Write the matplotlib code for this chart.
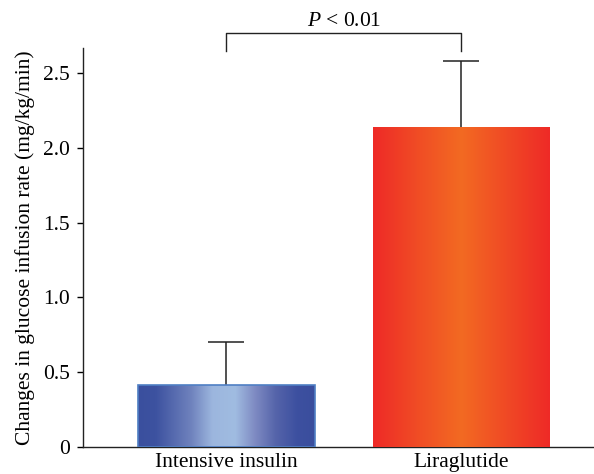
import numpy as np
import matplotlib.pyplot as plt
from matplotlib.colors import LinearSegmentedColormap

# Werte
groups = ['Intensive insulin', 'Liraglutide']
means = [0.41, 2.14]
sd_upper = [0.29, 0.44]
p_text = '$\\it{P}$ < 0.01'

plt.rcParams['font.family'] = ['Liberation Serif', 'DejaVu Serif']
plt.rcParams['mathtext.fontset'] = 'custom'
plt.rcParams['mathtext.it'] = 'Liberation Serif:italic'
plt.rcParams['mathtext.rm'] = 'Liberation Serif'

blue_cmap = LinearSegmentedColormap.from_list('blau', [
    (0.0, '#3a4f9e'), (0.1, '#3d52a0'), (0.3, '#6f82bd'), (0.42, '#9cb6de'),
    (0.55, '#a0bce1'), (0.66, '#7f8bc3'), (0.78, '#5564aa'), (0.9, '#3d50a0'),
    (1.0, '#3a4e9d')])
red_cmap = LinearSegmentedColormap.from_list('rot', [
    (0.0, '#ee2a27'), (0.25, '#f04c25'), (0.5, '#f36a22'), (0.75, '#f04a25'),
    (1.0, '#ee2a27')])

fs = 15.5
fig = plt.figure(figsize=(5.94, 4.74), dpi=100)
ax = fig.add_axes([0.14, 0.058, 0.86, 0.841])

x = np.arange(len(groups))
width = 0.753
bars = ax.bar(x, means, width=width, color='none', edgecolor='none', zorder=2)
eb = ax.errorbar(x, means, yerr=[np.zeros(len(means)), sd_upper], fmt='none',
                 ecolor='#222222', elinewidth=1.1, capsize=13, capthick=1.1, zorder=1)
eb[1][0].set_visible(False)  # untere Kappe weg

grad = np.linspace(0, 1, 256).reshape(1, -1)
for bar, cmap, edge in zip(bars, [blue_cmap, red_cmap], ['#4f7fc4', 'none']):
    x0, y0 = bar.get_x(), bar.get_y()
    w, h = bar.get_width(), bar.get_height()
    im = ax.imshow(grad, cmap=cmap, aspect='auto', extent=[x0, x0 + w, y0, y0 + h],
                   zorder=3, interpolation='bicubic')
    im.set_clip_path(bar)
    if edge != 'none':
        ax.bar(bar.get_x() + w / 2, h, width=w, color='none', edgecolor=edge,
               linewidth=1.2, zorder=4)

ax.set_xlim(-0.61, 1.565)
ax.set_ylim(0, 2.67)

# Signifikanzklammer
y_low, y_high = 2.65, 2.77
ax.plot([x[0], x[0], x[1], x[1]], [y_low, y_high, y_high, y_low], color='#222222',
        lw=1.0, clip_on=False, solid_joinstyle='round')
ax.text((x[0] + x[1]) / 2, 2.785, p_text, ha='center', va='bottom', fontsize=fs)

ax.set_yticks([0, 0.5, 1.0, 1.5, 2.0, 2.5])
ax.set_yticklabels(['0', '0.5', '1.0', '1.5', '2.0', '2.5'])
ax.set_xticks(x)
ax.set_xticklabels(groups)
ax.tick_params(axis='x', length=0, pad=5, labelsize=fs)
ax.tick_params(axis='y', length=4.5, width=1, pad=5, labelsize=fs, direction='out')
ax.set_ylabel('Changes in glucose infusion rate (mg/kg/min)', fontsize=fs, labelpad=6)

for s in ['top', 'right']:
    ax.spines[s].set_visible(False)
for s in ['left', 'bottom']:
    ax.spines[s].set_linewidth(1.0)
    ax.spines[s].set_color('#222222')

fig.savefig('out.png', dpi=100)
